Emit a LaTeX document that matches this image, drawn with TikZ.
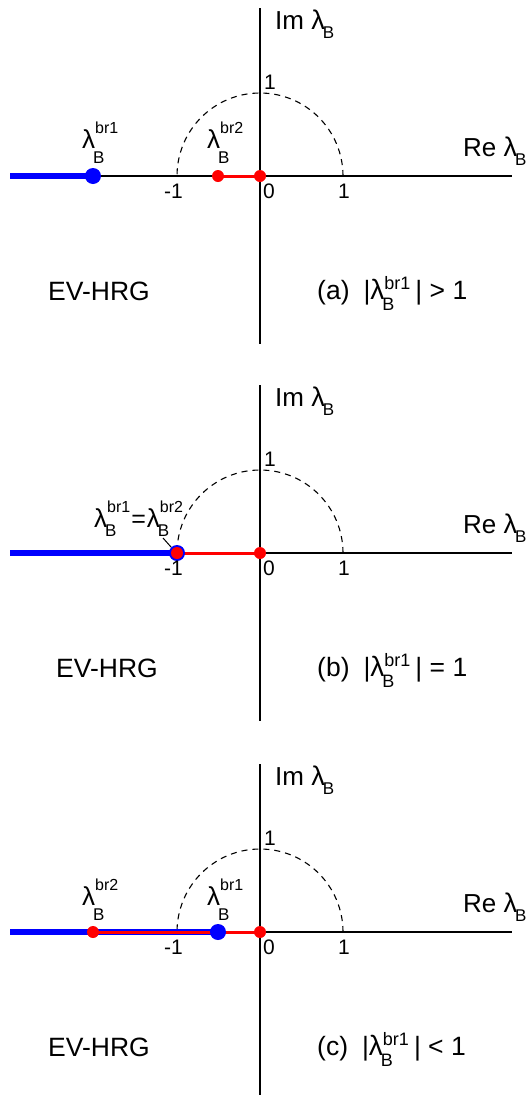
\documentclass[tikz,border=0pt]{standalone}
\usepackage{fontspec}
\setmainfont{Liberation Sans}
\newcommand\fs[1]{\fontsize{#1}{#1}\selectfont}
% stacked lambda label: lambda with subscript B (dropped by #1) and superscript #2
\newcommand\lamst[2][15pt]{{\fs{26}λ}\makebox[0pt][l]{\hspace{-2pt}\raisebox{-#1}{\fs{17}B}}\raisebox{15pt}{\fs{16}#2}}
\newcommand\lamcond{{\fs{28}λ}\makebox[0pt][l]{\hspace{-2pt}\raisebox{-11pt}{\fs{18}B}}\raisebox{10pt}{\fs{18}br1}\hspace{5pt}}
\newcommand\axlab[1]{{\fs{26}#1 }{\fs{27}λ}\hspace{-2pt}\raisebox{-9pt}{\fs{17}B}}
\tikzset{
  axisline/.style={line width=1.3pt, black},
  unitarc/.style={line width=1.1pt, dash pattern=on 6pt off 5pt},
  blueline/.style={line width=5.5pt, blue},
  redline/.style={line width=3pt, red},
  bdot/.style={circle, fill=blue, inner sep=0pt, minimum size=16pt},
  rdot/.style={circle, fill=red, inner sep=0pt, minimum size=12pt},
  lbl/.style={inner sep=0pt, anchor=base west},
  ticklbl/.style={inner sep=0pt, anchor=base west, font=\fs{21}},
  biglbl/.style={inner sep=0pt, anchor=base west, font=\fs{26.5}},
}
\begin{document}
\begin{tikzpicture}[x=1pt, y=-1pt]
\useasboundingbox (0,0) rectangle (532,1095);
% ---------------- panel (a)
\begin{scope}
  \coordinate (aL) at (10,176); \coordinate (aR) at (512,176);
  \coordinate (aT) at (260,8);  \coordinate (aB) at (260,344);
  \draw[axisline] (aL) -- (aR);
  \draw[axisline] (aT) -- (aB);
  \draw[unitarc] (343,176) arc[start angle=0, end angle=-180, radius=83];
  \coordinate (a1) at (93,176); \coordinate (a2) at (218,176); \coordinate (a0) at (260,176);
  \draw[blueline] (aL) -- (a1);
  \draw[redline] (a2) -- (a0);
  \node[bdot] (a1d) at (a1) {};
  \node[rdot] (a2d) at (a2) {};
  \node[rdot] (a0d) at (a0) {};
  \node[lbl] (aIm) at (275,29) {\axlab{Im}};
  \node[lbl] (aRe) at (463,156) {\axlab{Re}};
  \node[ticklbl] (aone) at (264,89) {1};
  \node[ticklbl] (amone) at (164,198) {-1};
  \node[ticklbl] (azero) at (263,198) {0};
  \node[ticklbl] (apone) at (338,198) {1};
  \node[lbl] (abr1) at (82,148) {\lamst{br1}};
  \node[lbl] (abr2) at (207,148) {\lamst{br2}};
  \node[biglbl] (aev) at (48,300) {EV-HRG};
  \node[biglbl] (acond) at (317,299) {(a)\hspace{14pt}|\lamcond| > 1};
\end{scope}
% ---------------- panel (b)
\begin{scope}[shift={(0,377)}]
  \coordinate (bL) at (10,176); \coordinate (bR) at (512,176);
  \coordinate (bT) at (260,8);  \coordinate (bB) at (260,344);
  \draw[axisline] (bL) -- (bR);
  \draw[axisline] (bT) -- (bB);
  \draw[unitarc] (343,176) arc[start angle=0, end angle=-180, radius=83];
  \coordinate (b1) at (177,176); \coordinate (b0) at (260,176);
  \draw[blueline] (bL) -- (b1);
  \draw[redline] (b1) -- (b0);
  \node[bdot] (b1d) at (b1) {};
  \node[rdot] (b2d) at (b1) {};
  \node[rdot] (b0d) at (b0) {};
  \node[lbl] (bIm) at (275,29) {\axlab{Im}};
  \node[lbl] (bRe) at (463,156) {\axlab{Re}};
  \node[ticklbl] (bone) at (264,89) {1};
  \node[ticklbl] (bmone) at (164,198) {-1};
  \node[ticklbl] (bzero) at (263,198) {0};
  \node[ticklbl] (bpone) at (338,198) {1};
  \node[lbl] (beq) at (94,150) {\lamst[9pt]{br1}\hspace{1pt}{\fs{25}=}\hspace{1pt}\lamst[9pt]{br2}};
  \coordinate (blead) at (163,161);
  \draw[line width=1pt] (blead) -- (b1d.north west);
  \node[biglbl] (bev) at (56,300) {EV-HRG};
  \node[biglbl] (bcond) at (317,299) {(b)\hspace{14pt}|\lamcond| = 1};
\end{scope}
% ---------------- panel (c)
\begin{scope}[shift={(0,756)}]
  \coordinate (cL) at (10,176); \coordinate (cR) at (512,176);
  \coordinate (cT) at (260,8);  \coordinate (cB) at (260,339);
  \draw[axisline] (cL) -- (cR);
  \draw[axisline] (cT) -- (cB);
  \draw[unitarc] (343,176) arc[start angle=0, end angle=-180, radius=83];
  \coordinate (c2) at (93,176); \coordinate (c1) at (218,176); \coordinate (c0) at (260,176);
  \draw[blueline] (cL) -- (c1);
  \draw[redline] (c2) -- (c0);
  \node[rdot] (c2d) at (c2) {};
  \node[bdot] (c1d) at (c1) {};
  \node[rdot] (c0d) at (c0) {};
  \node[lbl] (cIm) at (275,29) {\axlab{Im}};
  \node[lbl] (cRe) at (463,156) {\axlab{Re}};
  \node[ticklbl] (cone) at (264,89) {1};
  \node[ticklbl] (cmone) at (164,198) {-1};
  \node[ticklbl] (czero) at (263,198) {0};
  \node[ticklbl] (cpone) at (338,198) {1};
  \node[lbl] (cbr2) at (82,149) {\lamst{br2}};
  \node[lbl] (cbr1) at (207,149) {\lamst{br1}};
  \node[biglbl] (cev) at (48,300) {EV-HRG};
  \node[biglbl] (ccond) at (317,299) {(c)\hspace{14pt}|\lamcond| < 1};
\end{scope}
\end{tikzpicture}
\end{document}
